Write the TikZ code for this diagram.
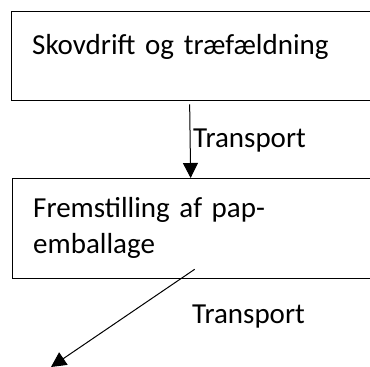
\documentclass[tikz,border=0pt]{standalone}
\usepackage{fontspec}
\setmainfont{Carlito}
\usetikzlibrary{arrows.meta,positioning}
\tikzset{
  procbox/.style={draw, line width=1.3pt, rectangle, anchor=north west, minimum width=366pt, inner sep=0pt},
  boxtext/.style={anchor=base west, align=left, text width=320pt, inner sep=0pt, font=\fontsize{29}{36}\selectfont},
  flowarrow/.style={line width=1pt, -{Triangle[length=15pt,width=15pt]}},
  translabel/.style={anchor=base west, inner sep=0pt, font=\fontsize{29}{36}\selectfont}
}
\begin{document}
\begin{tikzpicture}[x=1pt,y=-1pt]
\clip (0,0) rectangle (370,367);
\useasboundingbox (0,0) rectangle (370,367);

% Skovdrift box
\node[procbox, minimum height=89pt] (skov) at (11,11) {};
\node[boxtext] (skovtxt) at (32,54) {Skovdrift og træfældning};

% Fremstilling box
\node[procbox, minimum height=100pt] (fremst) at (12,178) {};
\node[boxtext] (fremsttxt) at (33,217) {Fremstilling af pap-\\emballage};

% Transport labels
\node[translabel] (trans1) at (193,147) {Transport};
\node[translabel] (trans2) at (192,323) {Transport};

% Connections
\coordinate (ud) at (51,367);
\draw[flowarrow] ([xshift=-5pt,yshift=-3pt]skov.south) -- ([xshift=-5pt]fremst.north);
\draw[flowarrow] ([xshift=-1pt,yshift=10pt]fremst.south) -- (ud);
\end{tikzpicture}
\end{document}
